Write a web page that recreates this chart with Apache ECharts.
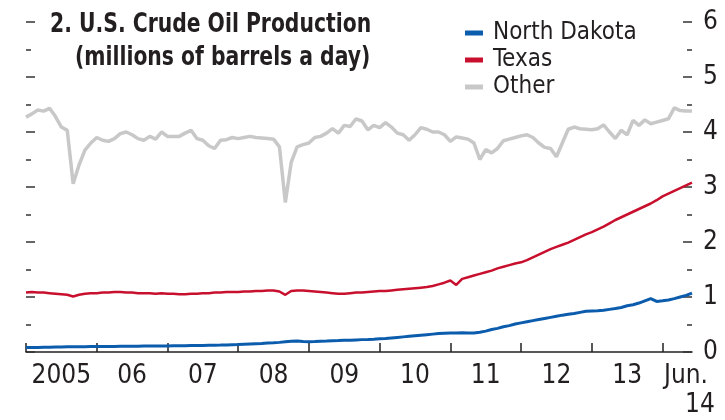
<!DOCTYPE html>
<html>
<head>
<meta charset="utf-8">
<script src="https://cdn.jsdelivr.net/npm/echarts@6/dist/echarts.min.js"></script>
<style>
  html, body { margin: 0; padding: 0; background: #fff; }
  #chart { width: 725px; height: 420px; }
</style>
</head>
<body>
<div id="chart"></div>
<script>
// monthly, Jan 2005 .. Jun 2014, millions of barrels a day
const months = []
for (let y = 2005; y <= 2014; y++) {
  for (let m = 1; m <= 12; m++) {
    if (y === 2014 && m > 6) break
    months.push(y + "-" + String(m).padStart(2, "0"))
  }
}

const northDakota = [
  0.080, 0.082, 0.084, 0.086, 0.088, 0.090, 0.092, 0.094, 0.095, 0.096, 0.097, 0.098,
  0.099, 0.100, 0.101, 0.102, 0.103, 0.104, 0.105, 0.106, 0.107, 0.108, 0.109, 0.110,
  0.111, 0.112, 0.113, 0.114, 0.116, 0.118, 0.120, 0.122, 0.124, 0.126, 0.129, 0.132,
  0.135, 0.140, 0.145, 0.150, 0.155, 0.162, 0.168, 0.175, 0.185, 0.195, 0.200, 0.190,
  0.188, 0.190, 0.195, 0.198, 0.203, 0.207, 0.212, 0.215, 0.220, 0.225, 0.228, 0.232,
  0.240, 0.245, 0.255, 0.265, 0.275, 0.285, 0.295, 0.305, 0.315, 0.325, 0.335, 0.340,
  0.345, 0.345, 0.350, 0.345, 0.345, 0.360, 0.380, 0.410, 0.430, 0.460, 0.480, 0.510,
  0.530, 0.550, 0.570, 0.590, 0.610, 0.630, 0.650, 0.670, 0.685, 0.700, 0.720, 0.740,
  0.745, 0.750, 0.760, 0.775, 0.790, 0.810, 0.840, 0.860, 0.890, 0.930, 0.970, 0.920,
  0.930, 0.945, 0.970, 1.000, 1.030, 1.070
]

const texas = [
  1.08, 1.09, 1.08, 1.08, 1.07, 1.06, 1.05, 1.04, 1.01, 1.04, 1.06, 1.07,
  1.07, 1.08, 1.08, 1.09, 1.09, 1.08, 1.08, 1.07, 1.07, 1.07, 1.06, 1.07,
  1.06, 1.06, 1.05, 1.05, 1.06, 1.06, 1.07, 1.07, 1.08, 1.08, 1.09, 1.09,
  1.09, 1.10, 1.10, 1.11, 1.11, 1.12, 1.12, 1.10, 1.04, 1.11, 1.12, 1.12,
  1.11, 1.10, 1.09, 1.08, 1.07, 1.06, 1.06, 1.07, 1.08, 1.08, 1.09, 1.10,
  1.11, 1.11, 1.12, 1.13, 1.14, 1.15, 1.16, 1.17, 1.18, 1.20, 1.23, 1.26,
  1.30, 1.22, 1.33, 1.36, 1.39, 1.42, 1.45, 1.48, 1.52, 1.55, 1.58, 1.61,
  1.63, 1.67, 1.72, 1.77, 1.82, 1.87, 1.91, 1.95, 1.99, 2.04, 2.09, 2.14,
  2.18, 2.23, 2.28, 2.34, 2.40, 2.45, 2.50, 2.55, 2.60, 2.65, 2.70, 2.76,
  2.83, 2.88, 2.93, 2.98, 3.03, 3.08
]

const other = [
  4.27, 4.33, 4.40, 4.38, 4.43, 4.28, 4.09, 4.03, 3.06, 3.40, 3.67, 3.80,
  3.90, 3.85, 3.83, 3.88, 3.97, 4.00, 3.95, 3.88, 3.85, 3.92, 3.87, 4.00,
  3.92, 3.92, 3.92, 3.98, 4.03, 3.88, 3.85, 3.75, 3.70, 3.85, 3.86, 3.90,
  3.88, 3.90, 3.92, 3.90, 3.89, 3.88, 3.87, 3.73, 2.72, 3.45, 3.73, 3.77,
  3.80, 3.90, 3.92, 3.98, 4.06, 3.98, 4.12, 4.10, 4.24, 4.20, 4.04, 4.12,
  4.08, 4.17, 4.09, 3.98, 3.95, 3.85, 3.95, 4.08, 4.05, 4.00, 4.00, 3.95,
  3.83, 3.91, 3.89, 3.87, 3.80, 3.50, 3.68, 3.62, 3.70, 3.84, 3.87, 3.90,
  3.93, 3.95, 3.90, 3.80, 3.72, 3.70, 3.55, 3.80, 4.05, 4.09, 4.06, 4.05,
  4.04, 4.06, 4.13, 4.00, 3.88, 4.03, 3.95, 4.21, 4.12, 4.22, 4.15, 4.18,
  4.21, 4.24, 4.44, 4.39, 4.38, 4.38
]

// x labels sit mid-year; last one at the end of the axis
const xLabels = { 6: "2005", 18: "06", 30: "07", 42: "08", 54: "09", 66: "10", 78: "11", 90: "12", 102: "13", 113: "{a|Jun.}\n{b|14}" }
const yTicks = [0, 1, 2, 3, 4, 5, 6]
const titleLines = ["2. U.S. Crude Oil Production", "(millions of barrels a day)"]

const FONT = '"DejaVu Sans Condensed", "Liberation Sans Narrow", "Roboto", sans-serif'
const TXT = "#231f20"

const chart = echarts.init(document.getElementById("chart"), null, { renderer: "canvas" })

const yBase = {
  type: "value",
  min: yTicks[0],
  max: yTicks[yTicks.length - 1],
  interval: 1,
  splitLine: { show: false },
  axisLine: { show: false },
  axisTick: { show: true, inside: true, length: 9, lineStyle: { color: "#333", width: 1.5 } },
  minorTick: { show: true, splitNumber: 2, length: 5, lineStyle: { color: "#333", width: 1.5 } },
}

// condensed bold title, squeezed a little to match the narrow original face
const titleText = (str, x, y) => ({
  type: "text",
  x: x,
  y: y,
  scaleX: 0.87,
  style: { text: str, font: 'bold 26px "DejaVu Sans Condensed", sans-serif', fill: TXT },
})

const labelFont = { fontFamily: FONT, fontSize: 26, color: TXT, lineHeight: 29 }

chart.setOption({
  animation: false,
  graphic: [titleText(titleLines[0], 50, 12), titleText(titleLines[1], 75, 45)],
  legend: {
    orient: "vertical",
    left: 465,
    top: 21,
    padding: 0,
    itemWidth: 18,
    itemHeight: 5,
    itemGap: 3,
    icon: "rect",
    textStyle: { fontFamily: FONT, fontSize: 24, lineHeight: 22, color: TXT, padding: [0, 0, 0, 5] },
    data: ["North Dakota", "Texas", "Other"],
  },
  grid: { left: 26, right: 33, top: 22, bottom: 63 },
  xAxis: {
    type: "category",
    data: months,
    boundaryGap: false,
    axisLine: { lineStyle: { color: "#222", width: 1.5 } },
    axisTick: {
      show: true,
      inside: true,
      length: 9,
      interval: (i) => i % 12 === 0,
      lineStyle: { color: "#222", width: 1.5 },
    },
    axisLabel: Object.assign({}, labelFont, {
      interval: (i) => xLabels[i] !== undefined,
      formatter: (v, i) => xLabels[i] || "",
      margin: 10,
      showMaxLabel: true,
      rich: {
        a: Object.assign({}, labelFont, { padding: [0, 12, 0, 0] }),
        b: Object.assign({}, labelFont, { padding: [0, 0, 0, 16] }),
      },
    }),
  },
  yAxis: [
    Object.assign({}, yBase, { position: "left", axisLabel: { show: false } }),
    Object.assign({}, yBase, {
      position: "right",
      axisLabel: { fontFamily: FONT, fontSize: 26, color: TXT, margin: 11 },
    }),
  ],
  series: [
    { name: "Other", type: "line", data: other, yAxisIndex: 1, showSymbol: false,
      lineStyle: { color: "#c8c8c8", width: 3.5 }, itemStyle: { color: "#c8c8c8" } },
    { name: "Texas", type: "line", data: texas, yAxisIndex: 1, showSymbol: false,
      lineStyle: { color: "#c8102e", width: 2.5 }, itemStyle: { color: "#c8102e" } },
    { name: "North Dakota", type: "line", data: northDakota, yAxisIndex: 1, showSymbol: false,
      lineStyle: { color: "#0b5cad", width: 3 }, itemStyle: { color: "#0b5cad" } },
  ],
})
</script>
</body>
</html>
